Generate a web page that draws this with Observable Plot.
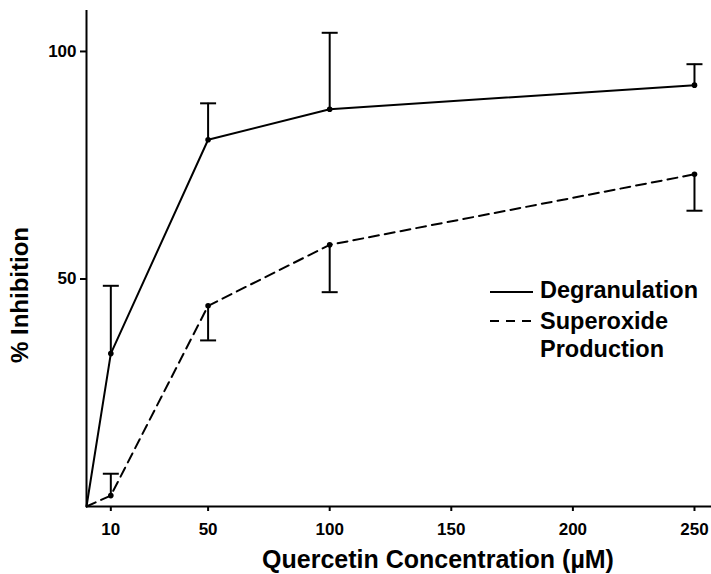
<!DOCTYPE html>
<html>
<head>
<meta charset="utf-8">
<script src="https://cdn.jsdelivr.net/npm/d3@7"></script>
<script src="https://cdn.jsdelivr.net/npm/@observablehq/plot@0.6"></script>
<style>
  html, body { margin: 0; padding: 0; background: #fff; }
  #wrap { position: relative; width: 711px; height: 574px; }
  #overlay { position: absolute; left: 0; top: 0; pointer-events: none; }
  #overlay text { font-family: "Liberation Sans", Arial, Helvetica, sans-serif; font-weight: bold; fill: #000; }
</style>
</head>
<body>
<div id="wrap"></div>
<script>
// ---- data ----
const concentrations = [0, 10, 50, 100, 250];            // µM
const degranulation = [0, 33.6, 80.6, 87.3, 92.6];        // % inhibition
const degranulationErrEnd = [null, 48.5, 88.6, 104.1, 97.2];
const superoxide = [0, 2.4, 44.1, 57.5, 73.0];            // % inhibition
const superoxideErrEnd = [null, 7.2, 36.5, 47.1, 65.0];
const xTicks = [10, 50, 100, 150, 200, 250];
const yTicks = [50, 100];
const seriesNames = ["Degranulation", "Superoxide Production"];
const xTitle = "Quercetin Concentration (\u00B5M)";
const yTitle = "% Inhibition";

// ---- build table ----
const rows = [];
concentrations.forEach((c, i) => {
  rows.push({series: seriesNames[0], conc: c, value: degranulation[i], err: degranulationErrEnd[i]});
  rows.push({series: seriesNames[1], conc: c, value: superoxide[i], err: superoxideErrEnd[i]});
});
const degRows = rows.filter(d => d.series === seriesNames[0]);
const supRows = rows.filter(d => d.series === seriesNames[1]);
const errRows = rows.filter(d => d.err != null);

// horizontal cap symbol for error bars
const capSymbol = {
  draw(ctx, size) {
    const r = Math.sqrt(size / Math.PI);
    ctx.moveTo(-r, 0);
    ctx.lineTo(r, 0);
  }
};

const fontFamily = '"Liberation Sans", Arial, Helvetica, sans-serif';

const chart = Plot.plot({
  width: 711,
  height: 574,
  marginLeft: 86,
  marginRight: 0,
  marginTop: 10,
  marginBottom: 68,
  x: {domain: [0, 257]},
  y: {domain: [0, 109]},
  style: {fontFamily, fontSize: "17px", fontWeight: "bold", color: "#000", background: "#fff", overflow: "visible"},
  marks: [
    Plot.axisX({ticks: xTicks, tickSize: 5, tickPadding: 11, label: null, strokeWidth: 2, fontSize: 17, fontWeight: "bold"}),
    Plot.axisY({ticks: yTicks, tickSize: 6, tickPadding: 4, label: null, strokeWidth: 2, fontSize: 17, fontWeight: "bold"}),
    Plot.ruleX([0], {stroke: "#000", strokeWidth: 2}),
    Plot.ruleY([0], {stroke: "#000", strokeWidth: 2}),
    Plot.line(degRows, {x: "conc", y: "value", stroke: "#000", strokeWidth: 2}),
    Plot.line(supRows, {x: "conc", y: "value", stroke: "#000", strokeWidth: 2, strokeDasharray: "10,6"}),
    Plot.ruleX(errRows, {x: "conc", y1: "value", y2: "err", stroke: "#000", strokeWidth: 2}),
    Plot.dot(errRows, {x: "conc", y: "err", symbol: capSymbol, r: 8, stroke: "#000", strokeWidth: 2, fill: "none"}),
    Plot.dot(errRows, {x: "conc", y: "value", r: 2.8, fill: "#000", stroke: "none"})
  ]
});

// enforce tick label font size
d3.select(chart).selectAll('g[aria-label$="tick label"]')
  .attr("font-size", 17).style("font-size", "17px").style("font-weight", "bold")
  .selectAll("text").style("font-size", "17px").style("font-weight", "bold");

const wrap = document.getElementById("wrap");
wrap.appendChild(chart);

// ---- titles and legend overlay ----
const ns = "http://www.w3.org/2000/svg";
const ov = document.createElementNS(ns, "svg");
ov.setAttribute("id", "overlay");
ov.setAttribute("width", 711);
ov.setAttribute("height", 574);
function el(tag, attrs, text) {
  const e = document.createElementNS(ns, tag);
  for (const k in attrs) e.setAttribute(k, attrs[k]);
  if (text != null) e.textContent = text;
  ov.appendChild(e);
  return e;
}
// x title
el("text", {x: 438, y: 568, "text-anchor": "middle", "font-size": 25}, xTitle);
// y title
el("text", {transform: "translate(28,295) rotate(-90)", "text-anchor": "middle", "font-size": 24}, yTitle);
// legend
el("line", {x1: 490, x2: 533, y1: 292, y2: 292, stroke: "#000", "stroke-width": 2});
el("line", {x1: 490, x2: 533, y1: 321, y2: 321, stroke: "#000", "stroke-width": 2, "stroke-dasharray": "9,7"});
el("text", {x: 540, y: 298, "font-size": 23.5}, seriesNames[0]);
const parts = seriesNames[1].split(" ");
el("text", {x: 540, y: 329, "font-size": 23.5}, parts[0]);
el("text", {x: 540, y: 357, "font-size": 23.5}, parts[1]);
wrap.appendChild(ov);
</script>
</body>
</html>
